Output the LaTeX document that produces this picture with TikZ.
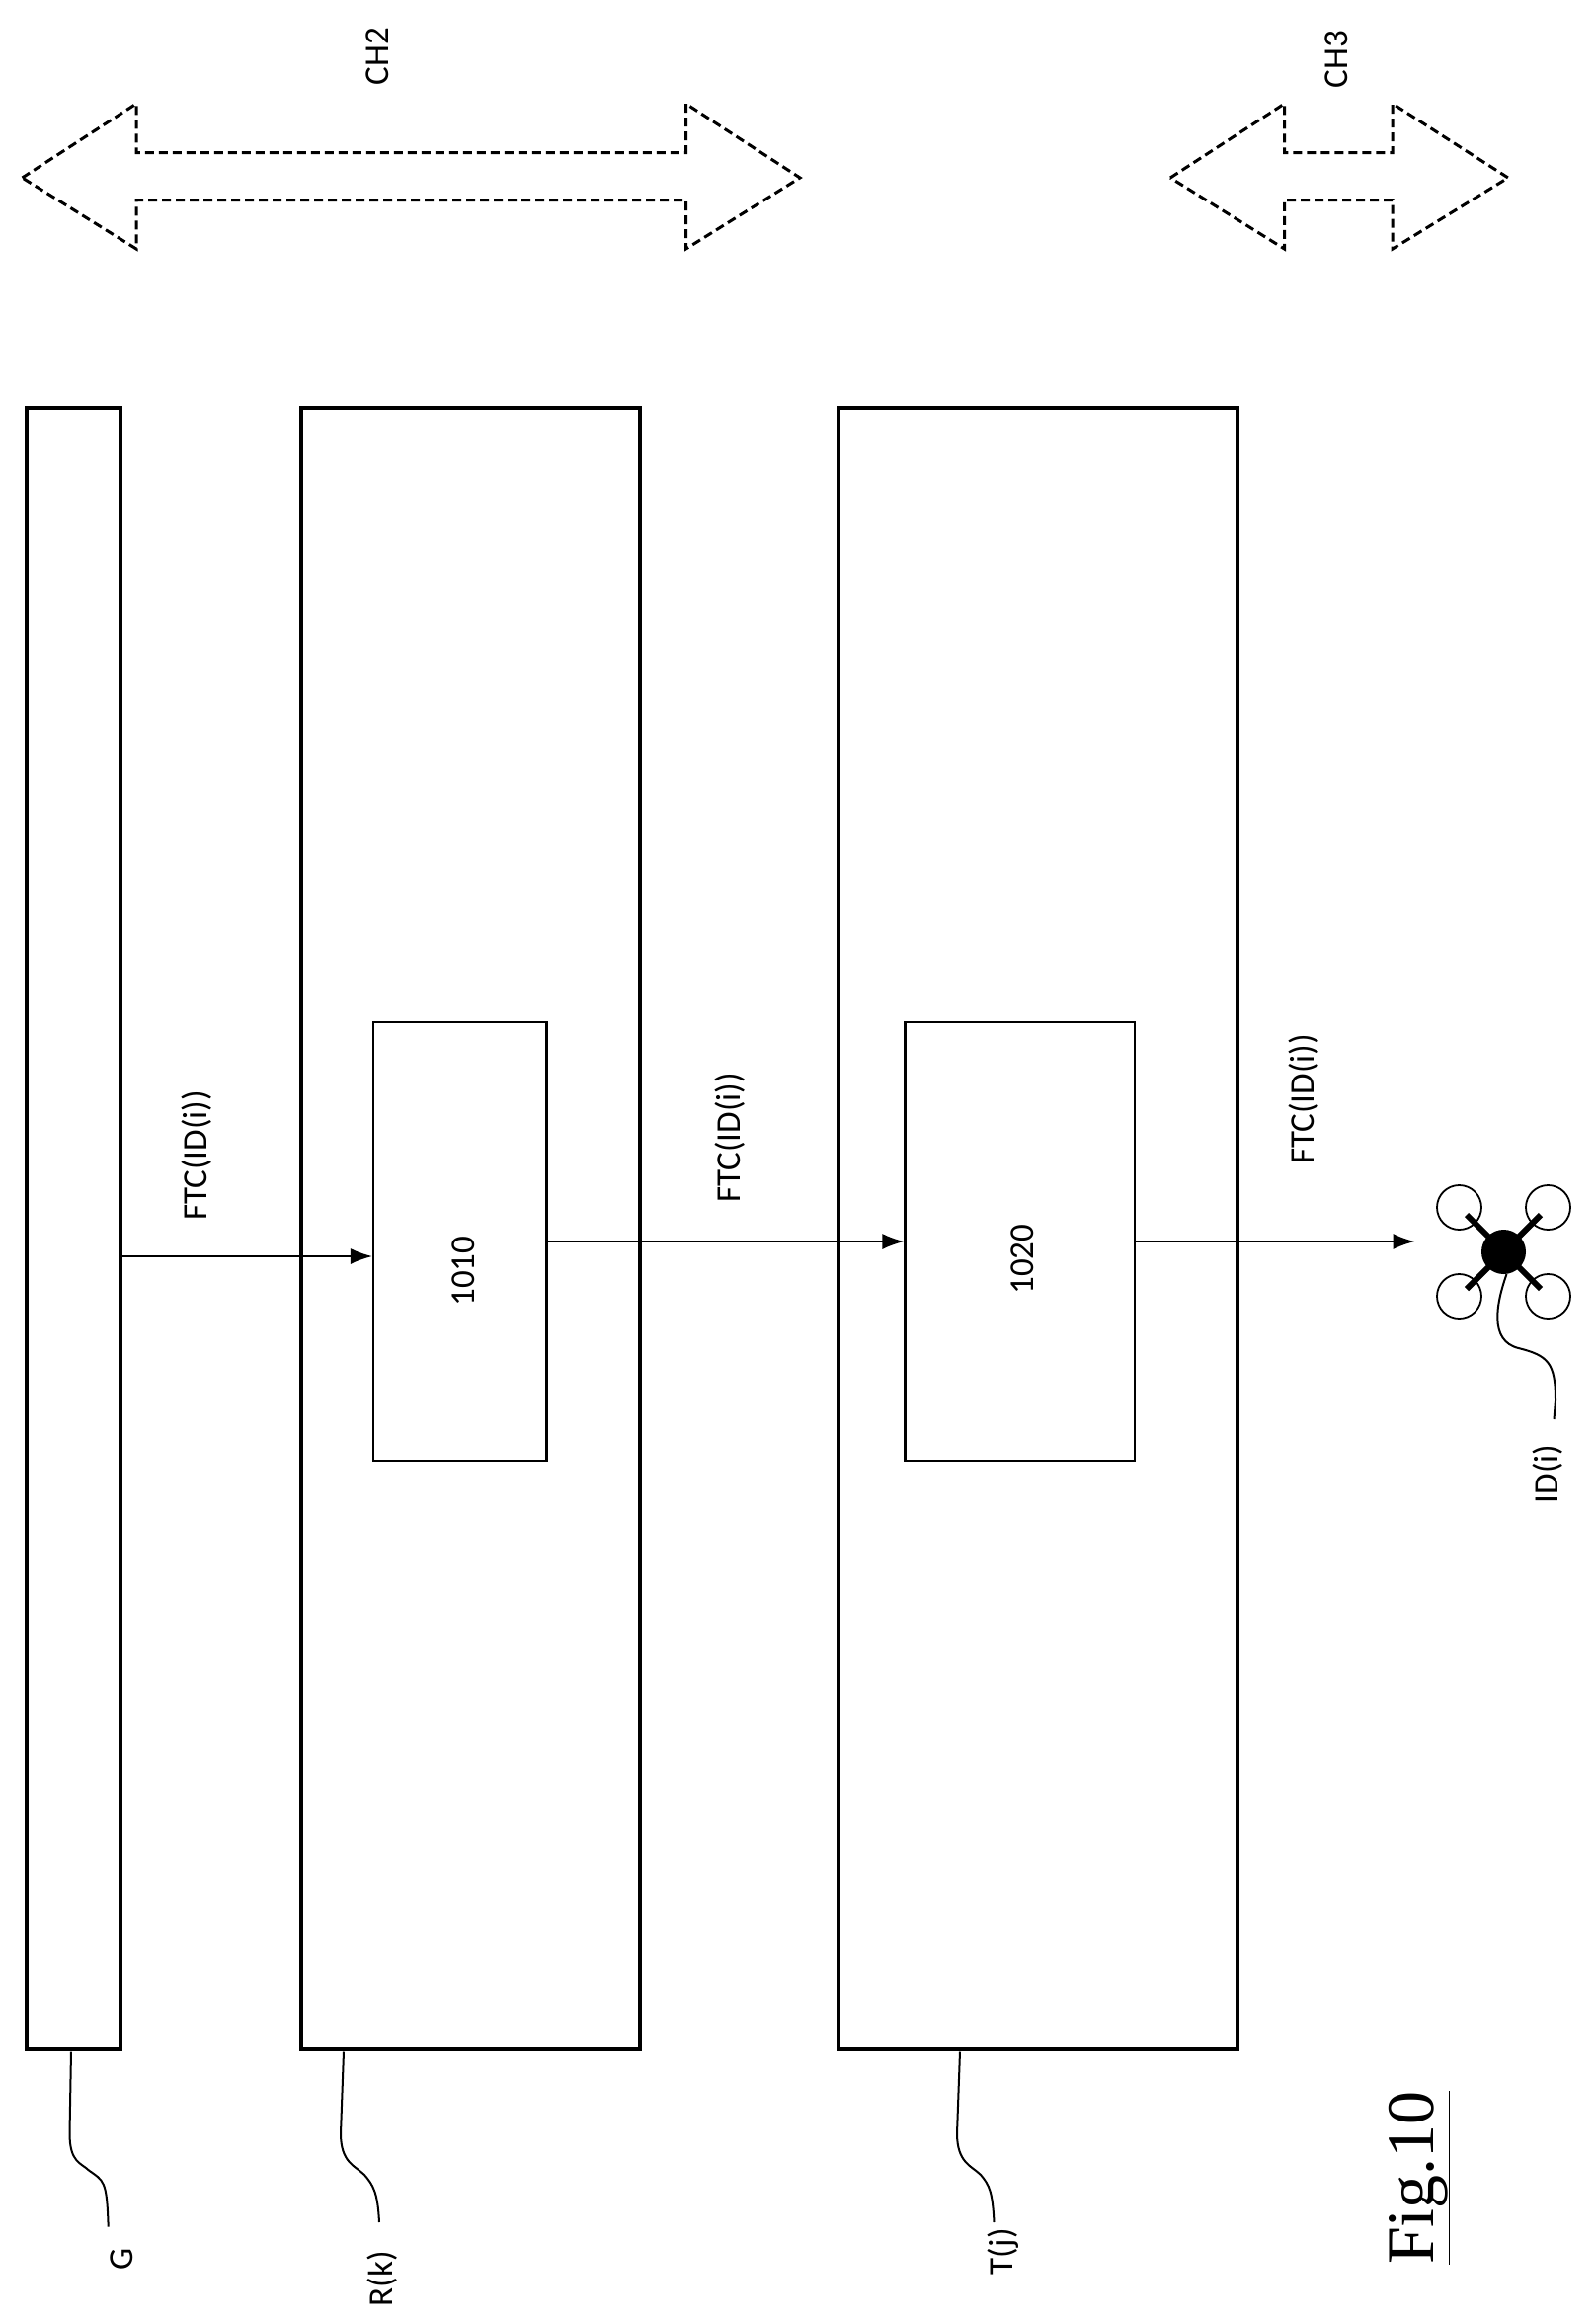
\documentclass[tikz,border=0pt]{standalone}
\usepackage{fontspec}
\setmainfont{Carlito}
\newfontfamily\figfont{Liberation Serif}
\usetikzlibrary{arrows.meta,calc}
\begin{document}
\begin{tikzpicture}[x=1.5pt,y=-1.5pt,
  blk/.style={draw,line width=4pt},
  inner/.style={draw,line width=2.2pt},
  sig/.style={line width=1.5pt,-{Latex[length=22pt,width=16pt]}},
  lead/.style={line width=2pt},
  dsh/.style={line width=3pt,dash pattern=on 9pt off 5pt},
  lbl/.style={rotate=90,font=\fontsize{35}{40}\selectfont},
]
\useasboundingbox (0,0) rectangle (1077.33,1566.67);
% channel arrows
\draw[dsh] (15,120) -- (92,70) -- (92,103) -- (463,103) -- (463,70) -- (540,120) -- (463,168) -- (463,135) -- (92,135) -- (92,168) -- cycle;
\node[lbl] (ch2) at (255,38) {CH2};
\draw[dsh] (790,120) -- (867,70) -- (867,103) -- (940,103) -- (940,70) -- (1018,120) -- (940,168) -- (940,135) -- (867,135) -- (867,168) -- cycle;
\node[lbl] (ch3) at (902,40) {CH3};
% blocks
\draw[blk] (18,275) rectangle (81,1383);
\draw[blk] (203,275) rectangle (432,1383);
\draw[blk] (566,275) rectangle (835,1383);
\coordinate (g) at (48,1385);
\coordinate (r) at (232,1385);
\coordinate (t) at (648,1385);
\node[inner,minimum width=117*1.5pt,minimum height=296*1.5pt] (b1) at (310.5,838) {};
\node[lbl] at (313,858) {1010};
\node[inner,minimum width=155*1.5pt,minimum height=296*1.5pt] (b2) at (688.5,838) {};
\node[lbl] at (690,850) {1020};
% signals
\coordinate (s0) at (81,848);
\draw[sig] (s0) -- (b1.west |- s0);
\node[lbl] at (133,780) {FTC(ID(i))};
\draw[sig] (b1.east |- 0,838) -- (b2.west |- 0,838);
\node[lbl] at (493,768) {FTC(ID(i))};
% drone
\coordinate (d) at (1015,845);
\draw[sig] (b2.east |- 0,838) -- (955,838);
\node[lbl] at (880,742) {FTC(ID(i))};
\foreach \dx/\dy in {-1/-1,1/-1,-1/1,1/1}{
  \draw[line width=1.8pt] ($(d)+(\dx*30,\dy*30)$) circle (15*1.5pt);
  \draw[line width=6pt] (d) -- ($(d)+(\dx*25,\dy*25)$);
}
\fill (d) circle (15*1.5pt);
% leaders
\draw[lead] (g) -- (47,1440) .. controls (47,1460) and (55,1460) .. (60,1465) .. controls (70,1472) and (72,1472) .. (73,1500) -- (73,1503);
\node[lbl] (gl) at (82,1525) {G};
\draw[lead] (r) -- (230,1440) .. controls (230,1460) and (240,1462) .. (246,1468) .. controls (252,1475) and (255,1480) .. (256,1500);
\node[lbl] (rl) at (258,1538) {R(k)};
\draw[lead] (t) -- (646,1440) .. controls (646,1460) and (656,1462) .. (662,1468) .. controls (668,1475) and (670,1480) .. (671,1500);
\node[lbl] (tl) at (677,1520) {T(j)};
\draw[lead] ($(d)+(2,15)$) .. controls (1010,880) and (1005,905) .. (1025,910) .. controls (1045,915) and (1050,920) .. (1050,945) -- (1049,958);
\node[lbl] (il) at (1045,995) {ID(i)};
\node[rotate=90,font=\figfont\fontsize{68}{72}\selectfont] (fig) at (958,1470) {\underline{Fig.10}};
\end{tikzpicture}
\end{document}
